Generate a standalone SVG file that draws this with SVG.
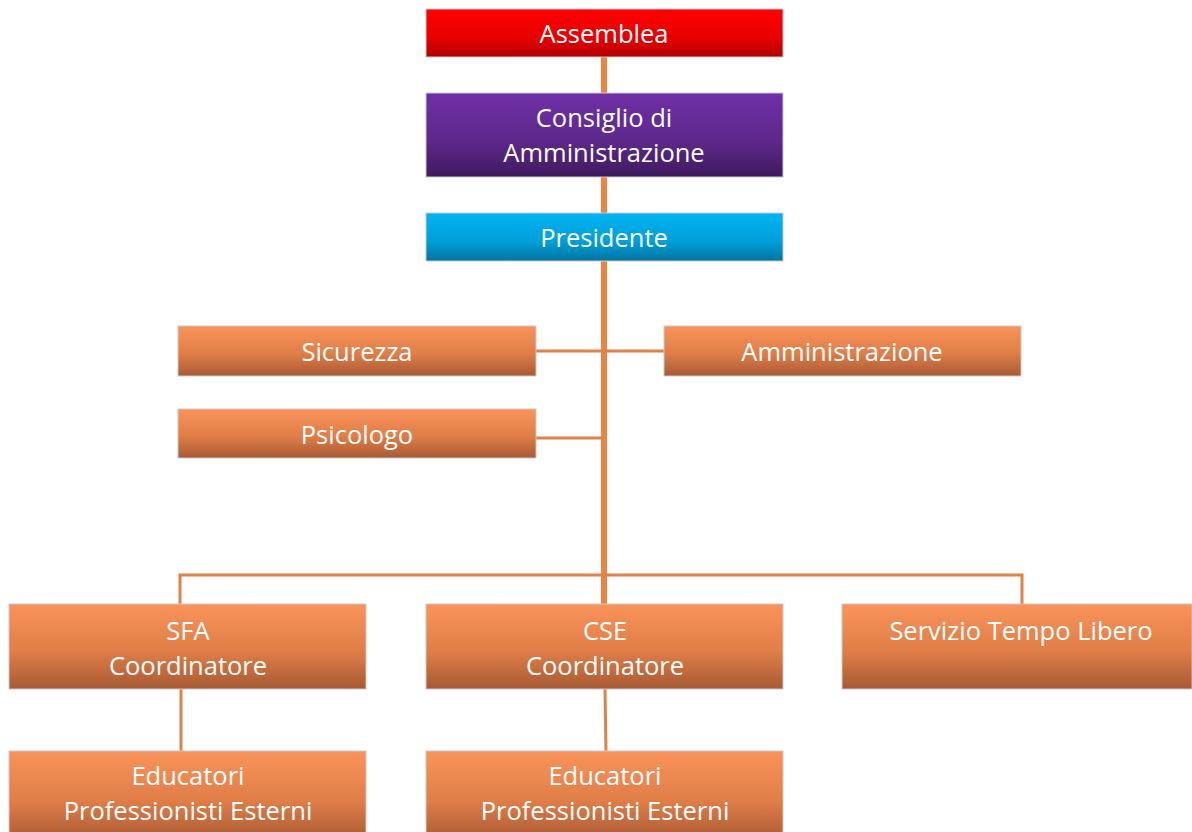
<svg xmlns="http://www.w3.org/2000/svg" width="1192" height="832" viewBox="0 0 1192 832">
<defs>
<linearGradient id="gOr" x1="0" y1="0" x2="0" y2="1"><stop offset="0" stop-color="#f9935a"/><stop offset="0.55" stop-color="#e07e48"/><stop offset="1" stop-color="#a85a34"/></linearGradient>
<linearGradient id="gRed" x1="0" y1="0" x2="0" y2="1"><stop offset="0" stop-color="#ff0000"/><stop offset="0.6" stop-color="#e80000"/><stop offset="1" stop-color="#b00000"/></linearGradient>
<linearGradient id="gPur" x1="0" y1="0" x2="0" y2="1"><stop offset="0" stop-color="#7030a8"/><stop offset="0.6" stop-color="#5c2788"/><stop offset="1" stop-color="#3e1a5e"/></linearGradient>
<linearGradient id="gBlu" x1="0" y1="0" x2="0" y2="1"><stop offset="0" stop-color="#00b4f2"/><stop offset="0.6" stop-color="#009fd8"/><stop offset="1" stop-color="#00739f"/></linearGradient>
</defs>
<style>
.box{stroke:#c9c9c9;stroke-width:1}
.or{fill:url(#gOr)}
.t{font-family:"Open Sans","Noto Sans",sans-serif;font-size:25.5px;fill:#ffffff;text-anchor:middle}
.thick{stroke:#ec8340;stroke-width:6;fill:none}
.thin{stroke:#dd8248;stroke-width:3;fill:none}
</style>
<rect width="1192" height="832" fill="#ffffff"/>
<g id="connectors">
<line class="thick" x1="604" y1="57" x2="604" y2="604"/>
<line class="thin" x1="536" y1="351" x2="664" y2="351"/>
<line class="thin" x1="536" y1="438" x2="604" y2="438"/>
<polyline class="thin" points="180,604 180,575 1022,575 1022,604"/>
<line class="thin" x1="181" y1="689" x2="181" y2="751"/>
<line class="thin" x1="605" y1="689" x2="606" y2="751"/>
</g>
<g id="assemblea"><rect class="box" x="426" y="9" width="357" height="48" fill="url(#gRed)"/><text class="t" x="604" y="43">Assemblea</text></g>
<g id="consiglio"><rect class="box" x="426" y="93" width="357" height="84" fill="url(#gPur)"/><text class="t" x="604" y="127">Consiglio di</text><text class="t" x="604" y="162">Amministrazione</text></g>
<g id="presidente"><rect class="box" x="426" y="213" width="357" height="48" fill="url(#gBlu)"/><text class="t" x="604" y="247">Presidente</text></g>
<g id="sicurezza"><rect class="box or" x="178" y="326" width="358" height="50"/><text class="t" x="357" y="361">Sicurezza</text></g>
<g id="amministrazione"><rect class="box or" x="664" y="326" width="357" height="50"/><text class="t" x="842" y="361">Amministrazione</text></g>
<g id="psicologo"><rect class="box or" x="178" y="409" width="358" height="49"/><text class="t" x="357" y="444">Psicologo</text></g>
<g id="sfa"><rect class="box or" x="9" y="604" width="357" height="85"/><text class="t" x="188" y="640">SFA</text><text class="t" x="188" y="675">Coordinatore</text></g>
<g id="cse"><rect class="box or" x="426" y="604" width="357" height="85"/><text class="t" x="605" y="640">CSE</text><text class="t" x="605" y="675">Coordinatore</text></g>
<g id="tempolibero"><rect class="box or" x="842" y="604" width="350" height="85"/><text class="t" x="1021" y="640">Servizio Tempo Libero</text></g>
<g id="educatori1"><rect class="box or" x="9" y="751" width="357" height="90"/><text class="t" x="188" y="785">Educatori</text><text class="t" x="188" y="820">Professionisti Esterni</text></g>
<g id="educatori2"><rect class="box or" x="426" y="751" width="357" height="90"/><text class="t" x="605" y="785">Educatori</text><text class="t" x="605" y="820">Professionisti Esterni</text></g>
</svg>
